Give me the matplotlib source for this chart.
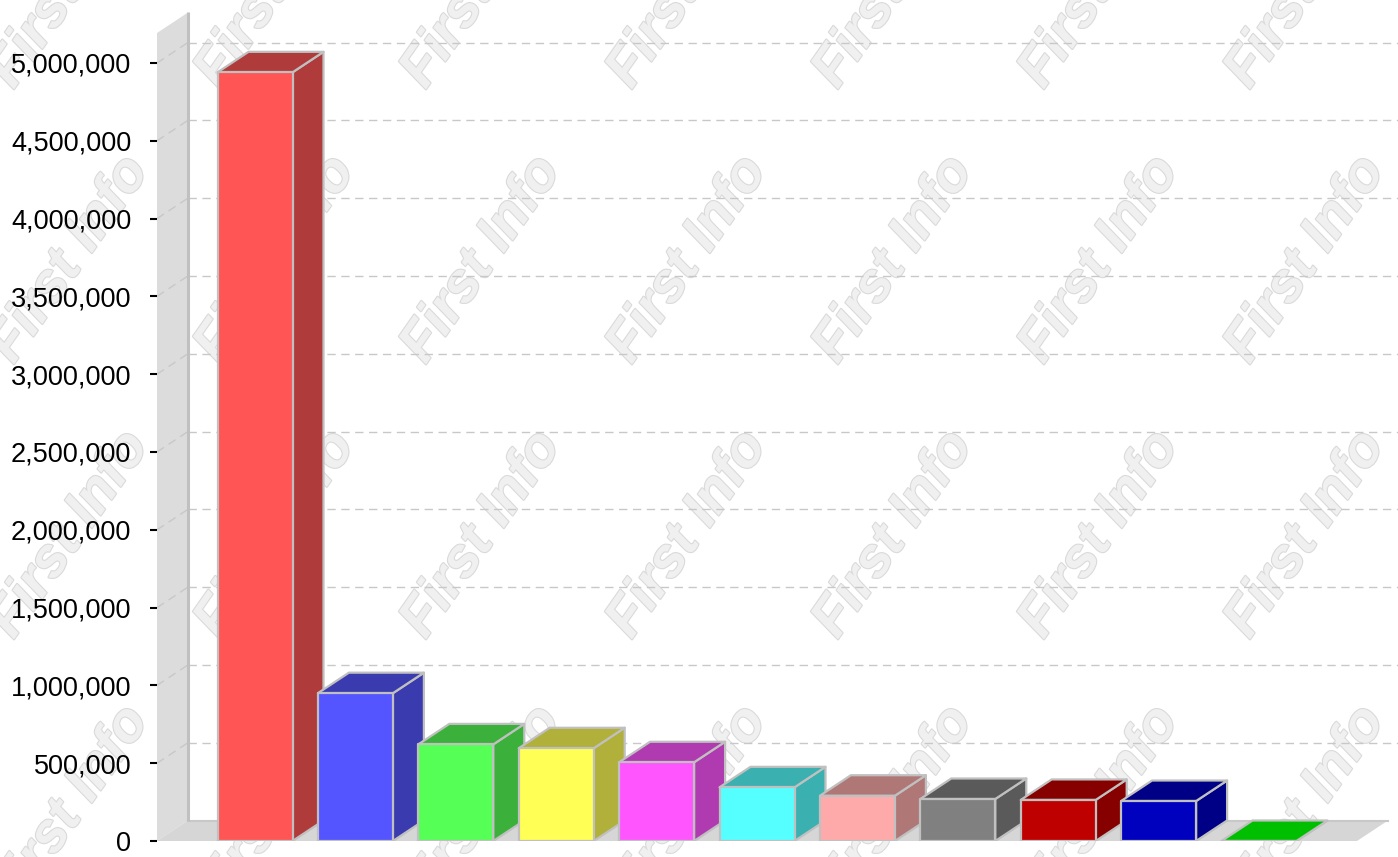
import matplotlib
matplotlib.use("Agg")
import matplotlib.pyplot as plt
from matplotlib.patches import Polygon
import matplotlib.patheffects as pe

# ---- data ----
values = [4940000, 950000, 621000, 596000, 506000, 345000, 291000, 270000, 264000, 257000, 0]
front_colors = ["#FF5555", "#5555FF", "#55FF55", "#FFFF55", "#FF55FF", "#55FFFF",
                "#FFAAAA", "#808080", "#BF0000", "#0000BF", "#00BF00"]
side_colors = ["#B03B3B", "#3B3BB0", "#3BB03B", "#B0B03B", "#B03BB0", "#3BB0B0",
               "#B07777", "#5A5A5A", "#860000", "#000086", "#008600"]
tick_values = [0, 500000, 1000000, 1500000, 2000000, 2500000, 3000000, 3500000,
               4000000, 4500000, 5000000]
tick_labels = ["0", "500,000", "1,000,000", "1,500,000", "2,000,000", "2,500,000",
               "3,000,000", "3,500,000", "4,000,000", "4,500,000", "5,000,000"]

# ---- layout (pixels) ----
W, H = 1398, 857
plt.rcParams['font.family'] = ['Liberation Sans', 'DejaVu Sans']
fig = plt.figure(figsize=(W / 100, H / 100), dpi=100)
fig.patch.set_facecolor("white")

# watermark (behind the chart)
for i in range(-1, 8):
    for j in range(0, 4):
        cx = 70 + 206 * i
        cy = -15 + 275 * j
        fig.text(cx / W, 1 - cy / H, "First Info", rotation=55, rotation_mode="anchor",
                 ha="center", va="center", fontsize=40, fontweight="bold", fontstyle="italic",
                 family=["Liberation Sans", "DejaVu Sans"],
                 color="#f0f0f0", zorder=-5,
                 path_effects=[pe.withStroke(linewidth=1.6, foreground="#dadada")])

left_px, right_px, bottom_px, top_px = 157, 1398, 841, 12
ax = fig.add_axes([left_px / W, (H - bottom_px) / H, (right_px - left_px) / W,
                   (bottom_px - top_px) / H])
ax.patch.set_alpha(0)
pitch = 100.4
c0 = 255
X0 = (left_px - c0) / pitch
X1 = (right_px - c0) / pitch
ax.set_xlim(X0, X1)
ymax = 5000000 * (bottom_px - top_px) / (841 - 63)
ax.set_ylim(0, ymax)
for s in ax.spines.values():
    s.set_visible(False)
ax.set_xticks([])
ax.set_yticks(tick_values)
ax.set_yticklabels(tick_labels)
ax.tick_params(axis="y", direction="out", length=5, width=1.5, pad=13.5,
               labelsize=19.5, color="black")

dx = 31 / pitch
dy = 20.5 * 5000000 / 778
bw = 75 / pitch
wall_top = 5000000 * (bottom_px - 33) / 778

# side wall
ax.add_patch(Polygon([(X0, 0), (X0, wall_top), (X0 + dx, wall_top + dy), (X0 + dx, dy)],
                     closed=True, facecolor="#dcdcdc", edgecolor="none", zorder=2))
ax.plot([X0 + dx, X0 + dx], [dy, wall_top + dy], color="#c0c0c0", lw=2.2, zorder=3,
        solid_capstyle="butt")

# gridlines
for v in tick_values[1:]:
    ax.plot([X0 + dx, X1], [v + dy, v + dy], color="#c8c8c8", lw=1, ls=(0, (6, 4)), zorder=1)
    ax.plot([X0, X0 + dx], [v, v + dy], color="#c8c8c8", lw=1, ls=(0, (6, 4)), zorder=2.5)

# floor
floor_right = (1357 - c0) / pitch
ax.add_patch(Polygon([(X0, 0), (floor_right, 0), (floor_right + dx, dy), (X0 + dx, dy)],
                     closed=True, facecolor="#d6d6d6", edgecolor="none", zorder=2))
ax.plot([X0 + dx, floor_right + dx], [dy, dy], color="#c8c8c8", lw=1.5, zorder=2.2)

# bars
edge = "#c0c0c0"
lw = 1.6
for i, v in enumerate(values):
    xl = i - bw / 2
    xr = i + bw / 2
    z = 5 + i
    ax.add_patch(Polygon([(xr, 0), (xr + dx, dy), (xr + dx, v + dy), (xr, v)], closed=True,
                         facecolor=side_colors[i], edgecolor=edge, lw=lw, zorder=z,
                         joinstyle="round"))
    top_color = side_colors[i] if v > 0 else front_colors[i]
    ax.add_patch(Polygon([(xl, v), (xr, v), (xr + dx, v + dy), (xl + dx, v + dy)], closed=True,
                         facecolor=top_color, edgecolor=edge, lw=lw, zorder=z,
                         joinstyle="round"))
    ax.add_patch(Polygon([(xl, 0), (xr, 0), (xr, v), (xl, v)], closed=True,
                         facecolor=front_colors[i], edgecolor=edge, lw=lw, zorder=z + 0.1,
                         joinstyle="round"))

fig.savefig("out.png", dpi=100, facecolor=fig.get_facecolor())
